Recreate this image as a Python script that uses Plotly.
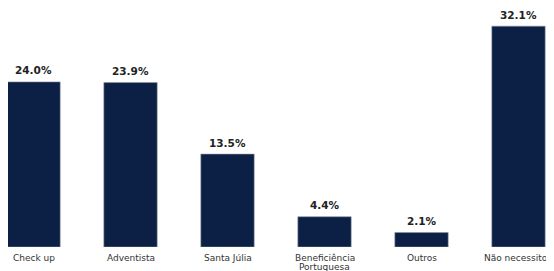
import plotly.graph_objects as go

categories = ["Check up", "Adventista", "Santa Júlia", "Beneficiência<br>Portuguesa", "Outros", "Não necessitou"]
values = [24.0, 23.9, 13.5, 4.4, 2.1, 32.1]
labels = ["24.0%", "23.9%", "13.5%", "4.4%", "2.1%", "32.1%"]

xs = list(range(len(categories)))

fig = go.Figure(go.Bar(
    x=xs,
    y=values,
    marker=dict(color="#0c1f44", line=dict(color="#8a94a6", width=0.6)),
    width=0.55,
    cliponaxis=False,
))

for x, v, t in zip(xs, values, labels):
    fig.add_annotation(
        x=x, y=v, text=t, showarrow=False,
        xanchor="center", yanchor="bottom", yshift=3.5,
        font=dict(family="DejaVu Sans", size=10.5, color="#222222", weight="bold"),
    )

# category labels (multi-line labels split so the line spacing stays tight)
for x, cat in zip(xs, categories):
    for i, line in enumerate(cat.split("<br>")):
        fig.add_annotation(
            x=x, y=0, yref="paper", text=line, showarrow=False,
            xanchor="center", yanchor="top", yshift=-3.5 - 9.4 * i,
            font=dict(family="DejaVu Sans", size=9, color="#333333"),
        )

fig.update_layout(
    width=554, height=271,
    margin=dict(l=0, r=8, t=0, b=32),
    plot_bgcolor="white", paper_bgcolor="white",
    showlegend=False,
    xaxis=dict(
        range=[-0.263, 5.366],
        showticklabels=False,
        showgrid=False, zeroline=False, showline=False, ticks="",
    ),
    yaxis=dict(range=[0, 34.74], visible=False),
)

fig.write_html("out.html")
